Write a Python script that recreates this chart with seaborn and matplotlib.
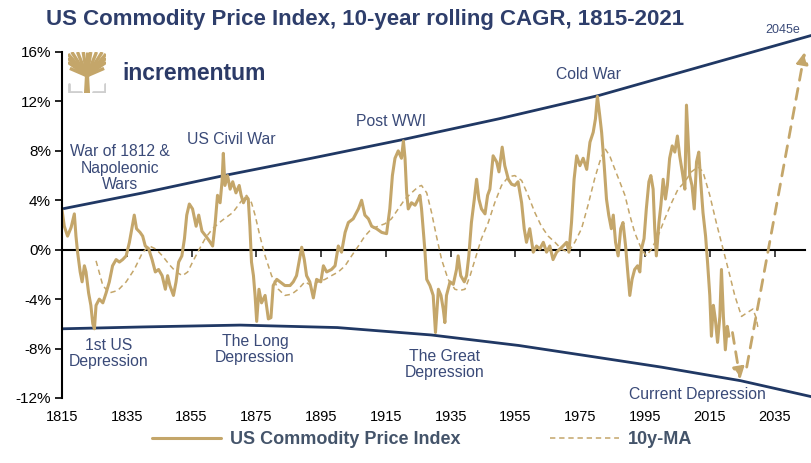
import matplotlib
matplotlib.use("Agg")
import matplotlib.pyplot as plt
import seaborn as sns

#---------------data (percent)
cagr_years = [1815.0, 1815.7, 1816.7, 1817.8, 1818.8, 1819.3, 1819.8, 1820.6, 1821.2, 1821.9,
              1822.4, 1823.2, 1823.9, 1824.5, 1825.0, 1825.5, 1826.5, 1827.6, 1828.6, 1829.6,
              1830.6, 1831.7, 1832.7, 1833.7, 1834.8, 1835.8, 1836.6, 1837.3, 1838.0, 1839.1,
              1839.9, 1840.7, 1841.7, 1842.8, 1843.8, 1844.8, 1845.9, 1846.9, 1847.6, 1848.3,
              1849.4, 1850.2, 1851.0, 1852.0, 1852.8, 1853.5, 1854.3, 1855.3, 1856.4, 1857.2,
              1858.2, 1859.4, 1860.5, 1861.5, 1862.3, 1863.0, 1863.8, 1864.4, 1864.8, 1865.3,
              1866.1, 1866.9, 1867.7, 1868.7, 1869.7, 1870.3, 1871.0, 1871.7, 1872.5, 1873.0,
              1873.5, 1874.1, 1874.6, 1875.1, 1875.8, 1876.6, 1877.7, 1878.7, 1879.5, 1880.2,
              1881.3, 1882.3, 1883.8, 1885.4, 1886.4, 1887.4, 1888.3, 1889.0, 1889.8, 1890.5,
              1891.5, 1892.6, 1893.6, 1894.9, 1895.7, 1896.7, 1898.2, 1899.3, 1900.3, 1901.3,
              1902.4, 1903.4, 1904.9, 1906.5, 1907.5, 1908.5, 1909.6, 1910.6, 1912.1, 1913.7,
              1915.2, 1916.2, 1917.0, 1917.8, 1918.8, 1919.8, 1920.4, 1920.9, 1921.4, 1921.9,
              1922.9, 1924.0, 1925.0, 1925.5, 1926.0, 1926.5, 1927.0, 1927.6, 1928.6, 1929.6,
              1930.3, 1931.2, 1932.0, 1932.7, 1933.2, 1933.7, 1934.8, 1935.8, 1936.8, 1937.3,
              1938.1, 1939.2, 1939.9, 1940.6, 1941.4, 1942.3, 1943.0, 1943.7, 1944.5, 1945.6,
              1946.4, 1947.1, 1948.1, 1949.2, 1949.9, 1950.9, 1951.7, 1952.8, 1953.8, 1954.8,
              1955.8, 1956.9, 1957.7, 1958.4, 1959.4, 1960.5, 1961.5, 1962.5, 1963.6, 1964.6,
              1965.6, 1966.6, 1967.7, 1968.7, 1969.7, 1970.8, 1971.5, 1972.3, 1973.1, 1973.9,
              1974.9, 1975.9, 1977.0, 1978.0, 1979.0, 1979.7, 1980.3, 1981.0, 1981.6, 1982.4,
              1983.1, 1983.8, 1984.6, 1985.2, 1985.9, 1986.7, 1987.5, 1988.2, 1989.0, 1989.6,
              1990.3, 1991.0, 1991.8, 1992.7, 1993.4, 1993.9, 1994.7, 1995.4, 1996.2, 1996.8,
              1997.5, 1998.0, 1998.5, 1999.3, 1999.9, 2000.6, 2001.3, 2001.9, 2002.6, 2003.4,
              2004.2, 2005.0, 2005.7, 2006.5, 2007.3, 2007.8, 2008.3, 2008.8, 2009.5, 2010.2,
              2010.9, 2011.6, 2012.2, 2012.9, 2013.7, 2014.3, 2015.0, 2015.5, 2016.1, 2016.7,
              2017.4, 2018.1, 2018.6, 2019.2, 2019.8, 2020.4, 2020.9]
cagr_values = [3.2, 1.9, 1.1, 1.8, 2.9, 1.1, -0.2, -1.8, -2.6, -1.3,
               -1.8, -3.5, -4.5, -6.0, -6.4, -4.5, -4.0, -4.3, -3.5, -2.6,
               -1.3, -0.8, -1.0, -0.8, -0.5, 0.6, 1.8, 2.8, 1.7, 1.4,
               1.1, 0.3, 0.1, -0.8, -1.8, -1.6, -2.1, -3.2, -2.1, -2.9,
               -3.7, -2.6, -1.0, -0.5, 0.9, 2.8, 3.7, 3.3, 1.9, 2.8,
               1.5, 1.1, 0.7, 0.3, 2.2, 4.4, 3.8, 5.5, 7.8, 5.2,
               6.0, 4.9, 5.5, 4.6, 5.2, 4.4, 3.8, 4.2, 4.1, 1.9,
               -1.0, -2.1, -3.7, -5.8, -3.2, -4.3, -3.7, -5.6, -5.5, -2.9,
               -2.4, -2.6, -2.9, -2.9, -2.6, -2.1, -0.8, 0.2, -0.8, -2.1,
               -2.6, -3.9, -2.4, -2.6, -1.3, -1.8, -1.6, -1.3, 0.3, -0.2,
               1.4, 2.2, 2.5, 3.3, 4.0, 2.8, 2.5, 1.9, 1.7, 1.4,
               1.3, 3.3, 6.0, 7.4, 8.0, 7.4, 8.8, 7.4, 4.6, 3.3,
               3.8, 3.6, 4.1, 4.4, 3.3, 1.7, 0.05, -2.4, -2.9, -3.7,
               -6.7, -3.2, -3.7, -4.8, -5.9, -3.7, -2.6, -2.8, -1.6, -0.5,
               -2.1, -2.6, -2.1, -0.5, 2.2, 4.1, 5.7, 4.1, 3.3, 2.9,
               4.4, 4.9, 7.6, 7.1, 6.3, 8.3, 6.8, 5.7, 5.3, 5.2,
               5.5, 3.8, 1.7, 0.6, 1.7, -0.2, 0.3, 0.05, 0.6, -0.2,
               0.3, -0.8, -0.2, 0.05, 0.3, 0.6, -0.2, 2.2, 5.7, 7.6,
               6.8, 7.4, 6.5, 8.7, 9.5, 10.6, 12.4, 10.9, 9.5, 6.8,
               4.1, 2.8, 1.7, 2.8, 0.6, -0.5, 1.7, 2.2, 0.3, -1.6,
               -3.7, -2.4, -1.6, -1.3, -1.8, 0.05, 0.9, 3.3, 5.5, 6.0,
               4.9, 1.7, -0.5, 2.2, 3.6, 5.7, 4.1, 5.2, 7.4, 8.4,
               7.9, 9.2, 7.6, 6.3, 4.9, 11.7, 9.0, 6.0, 5.2, 3.3,
               7.1, 7.9, 5.5, 3.0, 1.1, -1.0, -3.7, -7.0, -4.5, -5.6,
               -7.5, -5.4, -1.6, -5.4, -8.1, -6.2, -7.0]

ma_years = [1825.5, 1827.6, 1829.6, 1832.2, 1834.8, 1837.3, 1839.9, 1842.0, 1844.0, 1846.0,
            1848.1, 1850.2, 1852.2, 1853.8, 1855.3, 1857.4, 1859.4, 1861.5, 1863.6, 1865.6,
            1867.7, 1869.7, 1870.5, 1872.0, 1873.5, 1874.6, 1876.1, 1877.7, 1879.7, 1881.8,
            1883.8, 1885.9, 1887.9, 1890.0, 1892.0, 1894.1, 1896.2, 1898.2, 1900.3, 1902.4,
            1904.4, 1906.5, 1908.5, 1910.6, 1912.6, 1914.7, 1916.7, 1918.8, 1920.9, 1922.9,
            1925.0, 1926.0, 1927.6, 1929.1, 1930.6, 1932.2, 1934.2, 1936.3, 1937.8, 1939.4,
            1941.0, 1942.5, 1944.5, 1946.6, 1948.6, 1950.7, 1952.8, 1954.8, 1956.9, 1958.9,
            1961.0, 1963.0, 1965.1, 1967.2, 1969.2, 1971.3, 1973.3, 1975.4, 1977.4, 1979.5,
            1981.0, 1982.6, 1984.1, 1985.7, 1987.2, 1988.8, 1990.3, 1991.8, 1993.9, 1995.4,
            1997.0, 1999.0, 2001.1, 2003.2, 2005.2, 2007.3, 2009.3, 2011.4, 2012.9, 2015.0,
            2017.0, 2019.1, 2021.2, 2022.7, 2024.8, 2026.5, 2028.3, 2029.3, 2030.0]
ma_values = [-0.9, -2.9, -3.5, -3.3, -2.6, -1.6, -0.2, 0.3, 0.05, -0.5,
             -1.2, -1.8, -2.1, -1.8, -1.0, 0.05, 1.0, 1.7, 2.2, 2.6,
             3.0, 3.7, 4.0, 4.4, 3.8, 2.8, 1.1, -0.5, -2.1, -3.2,
             -3.7, -3.6, -3.2, -2.6, -2.9, -2.6, -2.4, -2.1, -1.8, -1.3,
             -0.5, 0.3, 1.1, 1.7, 1.9, 2.1, 2.5, 3.3, 4.1, 4.6,
             5.1, 5.2, 4.6, 3.0, 1.1, -0.8, -2.4, -3.2, -3.3, -3.2,
             -2.1, -0.8, 0.9, 2.2, 3.8, 5.2, 5.9, 6.0, 5.6, 4.4,
             3.0, 1.9, 1.1, 0.6, 0.05, -0.2, 0.6, 1.7, 3.6, 5.8,
             7.1, 8.2, 7.6, 6.5, 5.5, 4.4, 2.8, 1.4, 0.05, -0.5,
             0.05, 1.1, 2.5, 3.8, 4.9, 5.5, 6.3, 6.7, 6.3, 4.4,
             2.2, 0.05, -2.1, -3.7, -5.4, -5.1, -4.8, -5.5, -6.5]

# hand drawn channel lines of the original
upper_years = [1815, 1840, 1865, 1892, 1920, 1950, 1981, 2012, 2046.5]
upper_values = [3.3, 4.6, 6.0, 7.4, 8.9, 10.6, 12.5, 14.8, 17.35]
lower_years = [1815, 1840, 1870, 1900, 1929, 1956, 1980, 2000, 2024.5, 2046.5]
lower_values = [-6.4, -6.25, -6.1, -6.3, -6.9, -7.75, -8.7, -9.5, -10.6, -11.9]

# scenario arrows: (start year, start value, end year, end value)
arrow_down = (2022.0, -6.7, 2024.4, -10.5)
arrow_up = (2026.4, -9.5, 2044.3, 16.0)

x_ticks = [1815, 1835, 1855, 1875, 1895, 1915, 1935, 1955, 1975, 1995, 2015, 2035]
y_ticks = [-12, -8, -4, 0, 4, 8, 12, 16]

events = [("War of 1812 &\nNapoleonic\nWars", 1832.9, 6.6),
          ("US Civil War", 1867.2, 8.9),
          ("Post WWI", 1916.5, 10.4),
          ("Cold War", 1977.6, 14.2),
          ("1st US\nDepression", 1829.5, -8.4),
          ("The Long\nDepression", 1874.6, -8.1),
          ("The Great\nDepression", 1933.2, -9.3),
          ("Current Depression", 2011.3, -11.7)]

gold = "#C4A66A"
navy = "#203864"
text_navy = "#3A4A78"

sns.set_style("white")
plt.rcParams['font.family'] = ['Liberation Sans', 'DejaVu Sans']

fig = plt.figure(figsize=(8.12, 4.63), dpi=100)
ax = fig.add_axes([0.0764, 0.1404, 0.9146, 0.7473])

#---------channel lines
ax.plot(upper_years, upper_values, color=navy, lw=2.0, clip_on=False, solid_capstyle='butt')
ax.plot(lower_years, lower_values, color=navy, lw=2.0, clip_on=False, solid_capstyle='butt')

#---------the series
sns.lineplot(x=cagr_years, y=cagr_values, ax=ax, color=gold, lw=2.2,
             label="US Commodity Price Index")
sns.lineplot(x=ma_years, y=ma_values, ax=ax, color=gold, lw=1.1,
             linestyle=(0, (3.5, 2.5)), label="10y-MA")

#---------scenario arrows
for x0, y0, x1, y1 in [arrow_down, arrow_up]:
    ax.annotate("", xy=(x1, y1), xytext=(x0, y0), annotation_clip=False,
                arrowprops=dict(arrowstyle="-|>", color=gold, lw=2.0, ls=(0, (4, 3)),
                                mutation_scale=17, shrinkA=0, shrinkB=0))
ax.text(2037.5, 17.8, "2045e", color=text_navy, fontsize=9, ha='center', va='center')

for label, x, y in events:
    ax.text(x, y, label, color=text_navy, fontsize=11.3, ha='center', va='center',
            linespacing=1.1)

#---------axes
ax.set_xlim(1815, 2044.3)
ax.set_ylim(-12, 16)
ax.set_yticks(y_ticks)
ax.set_yticklabels([f"{v}%" for v in y_ticks])
ax.set_xticks(x_ticks)
ax.set_xticklabels([str(v) for v in x_ticks])
ax.tick_params(axis='x', length=0, pad=9, labelsize=10.5, colors='black')
ax.tick_params(axis='y', length=5, width=1.2, direction='out', pad=3, labelsize=11,
               colors='black', left=True)
for side in ['top', 'right', 'bottom']:
    ax.spines[side].set_visible(False)
ax.spines['left'].set_color('black')
ax.spines['left'].set_linewidth(1.5)

zero_axis = ax.secondary_xaxis(0, transform=ax.transData)
zero_axis.set_xticks(x_ticks)
zero_axis.tick_params(length=5, width=1.2, direction='out', labelbottom=False)
zero_axis.spines['bottom'].set_color('black')
zero_axis.spines['bottom'].set_linewidth(1.5)

#---------title and legend
fig.text(0.45, 0.958, "US Commodity Price Index, 10-year rolling CAGR, 1815-2021",
         ha='center', va='center', fontsize=16, fontweight='bold', color="#2E3E6B")
ax.legend(loc='center', bbox_to_anchor=(0.52, 0.05), bbox_transform=fig.transFigure,
          ncol=2, frameon=False, handlelength=3.8, handletextpad=0.5, columnspacing=5.0,
          prop={'weight': 'bold', 'size': 13})
for t in ax.get_legend().get_texts():
    t.set_color("#44546A")

#---------logo
logo = fig.add_axes([68 / 812, 1 - 93 / 463, 38 / 812, 41 / 463])
logo.set_xlim(0, 1)
logo.set_ylim(0, 1)
logo.axis('off')
logo.fill([0.42, 0.58, 0.55, 0.45], [0.0, 0.0, 0.5, 0.5], color=gold, lw=0)
for tx, ty in [(0.0, 0.95), (0.1, 1.0), (0.25, 1.0), (0.4, 1.0), (0.5, 1.0), (0.6, 1.0),
               (0.75, 1.0), (0.9, 1.0), (1.0, 0.95), (0.0, 0.75), (1.0, 0.75), (0.05, 0.6),
               (0.95, 0.6), (0.0, 0.85), (1.0, 0.85)]:
    logo.plot([0.5, tx], [0.42, ty], color=gold, lw=2.4, solid_capstyle='butt')
logo.plot([0.02, 0.02, 0.33], [0.22, 0.02, 0.02], color="#CFCFCF", lw=2.0)
logo.plot([0.98, 0.98, 0.67], [0.22, 0.02, 0.02], color="#CFCFCF", lw=2.0)
fig.text(122 / 812, 1 - 73 / 463, "incrementum", ha='left', va='center', fontsize=16.5,
         fontweight='bold', color="#2B3A67")

fig.savefig("out.png", dpi=100)
